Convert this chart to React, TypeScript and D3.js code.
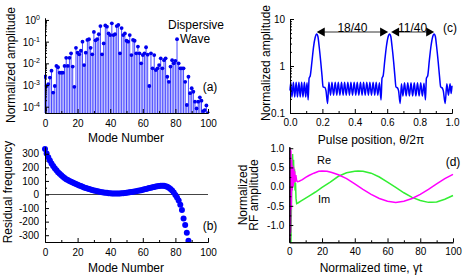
import { useRef, useEffect } from "react";
import {
    axisBottom,
    axisLeft,
    Axis as D3Axis,
    scaleLinear,
    scaleLog,
    select,
    line,
    curveMonotoneX,
} from "d3";

const FONT = "'Liberation Sans', Arial, sans-serif";

// (a) normalized mode amplitudes, index = mode number
const modeAmplitudes = [
    2.4e-3, 9e-4, 1.1e-3, 2.2e-3, 4.6e-3, 4.5e-4, 9e-4, 7.6e-3, 6.6e-3, 3.7e-3,
    3.7e-3, 3.7e-3, 7.6e-3, 1.8e-2, 7.6e-3, 1.8e-2, 2.9e-2, 7.1e-3, 8.3e-4, 5.2e-2,
    3.1e-2, 2.6e-2, 3.8e-2, 0.1, 8.3e-3, 3.1e-2, 0.12, 0.13, 5.2e-2, 2.6e-2,
    0.28, 0.115, 0.13, 0.22, 0.52, 2.6e-2, 8.3e-2, 0.56, 0.49, 0.24,
    0.2, 0.7, 0.2, 0.22, 0.52, 0.59, 2.9e-2, 0.42, 0.2, 0.24,
    0.11, 0.1, 0.2, 2.4e-2, 0.12, 0.11, 2.9e-2, 5.9e-2, 2.9e-2, 1e-2,
    2.4e-2, 2.9e-2, 5.5e-2, 2.5e-2, 9e-4, 2.9e-2, 5.9e-3, 2.4e-2, 4.9e-3, 5.9e-3,
    8.3e-3, 1.7e-2, 5.9e-3, 1.4e-2, 1.7e-2, 2.4e-3, 1.4e-3, 7.1e-3, 1.4e-2, 1e-2,
    1.3e-2, 0.13, 1e-2, 5.9e-3, 5.9e-3, 5.9e-3, 1.4e-3, 1.2e-4, 2.4e-3, 4.2e-4,
    7.1e-4, 4.9e-4, 1.7e-4, 8.3e-5, 1.7e-4, 2.7e-4, 1.9e-4, 6.3e-5, 7e-5, 1.15e-4,
    5e-5,
];

// (b) residual frequency, index = mode number
const residuals = [
    335, 302, 274, 250, 229, 210, 193, 178, 164, 152,
    141, 131, 122, 113, 106, 100, 94, 88, 82, 77,
    72, 67, 62, 57, 52, 48, 44, 40, 36, 33,
    30, 27, 24, 22, 19, 17, 15, 13, 12, 10,
    9, 8, 7, 7, 7, 7, 8, 9, 10, 11,
    13, 14, 16, 18, 20, 22, 24, 27, 29, 32,
    35, 38, 41, 44, 47, 50, 53, 56, 59, 61,
    63, 65, 65, 64, 61, 57, 50, 41, 29, 14,
    -3, -22, -45, -75, -115, -176, -225, -281, -340,
];

// (c) pulse trace: [position, amplitude]
const pulseTrace: [number, number][] = [
    [0.0, 0.3], [0.005, 0.45], [0.012, 0.22], [0.021, 0.45], [0.029, 0.22], [0.038, 0.45],
    [0.046, 0.22], [0.055, 0.45], [0.063, 0.22], [0.072, 0.45], [0.08, 0.22], [0.089, 0.45],
    [0.097, 0.22], [0.105, 0.44], [0.112, 0.19], [0.118, 0.55], [0.125, 0.62], [0.135, 1.2],
    [0.145, 2.5], [0.155, 4.0], [0.165, 4.8], [0.172, 4.3], [0.18, 2.6], [0.19, 1.2],
    [0.198, 0.6], [0.204, 0.36], [0.215, 0.35], [0.222, 0.3], [0.232, 0.16], [0.24, 0.45],
    [0.25, 0.24], [0.259, 0.45], [0.269, 0.24], [0.279, 0.45], [0.289, 0.24], [0.298, 0.45],
    [0.308, 0.24], [0.318, 0.45], [0.328, 0.24], [0.337, 0.45], [0.347, 0.24], [0.357, 0.45],
    [0.367, 0.24], [0.376, 0.45], [0.386, 0.24], [0.396, 0.45], [0.406, 0.24], [0.415, 0.45],
    [0.425, 0.24], [0.435, 0.45], [0.445, 0.24], [0.454, 0.45], [0.464, 0.24], [0.474, 0.45],
    [0.484, 0.24], [0.493, 0.45], [0.503, 0.24], [0.513, 0.45], [0.523, 0.24], [0.532, 0.45],
    [0.542, 0.24], [0.552, 0.44], [0.562, 0.19], [0.568, 0.55], [0.575, 0.62], [0.585, 1.3],
    [0.595, 2.6], [0.605, 4.1], [0.615, 4.8], [0.622, 4.3], [0.63, 2.6], [0.64, 1.2],
    [0.648, 0.58], [0.654, 0.36], [0.664, 0.34], [0.67, 0.3], [0.68, 0.16], [0.688, 0.42],
    [0.697, 0.23], [0.707, 0.44], [0.717, 0.23], [0.727, 0.44], [0.737, 0.23], [0.747, 0.44],
    [0.757, 0.23], [0.767, 0.44], [0.777, 0.23], [0.787, 0.44], [0.797, 0.23], [0.807, 0.44],
    [0.817, 0.23], [0.827, 0.43], [0.836, 0.19], [0.842, 0.55], [0.85, 0.62], [0.86, 1.3],
    [0.87, 2.6], [0.88, 4.1], [0.89, 4.8], [0.897, 4.3], [0.905, 2.6], [0.915, 1.2],
    [0.923, 0.6], [0.93, 0.36], [0.94, 0.34], [0.946, 0.3], [0.958, 0.16], [0.968, 0.42],
    [0.978, 0.24], [0.988, 0.42], [0.995, 0.26], [1.0, 0.38],
];
const pulsePeaks = [0.165, 0.615, 0.89];
const spacingLabels = ["18/40", "11/40"];

// (d) RF amplitude: [time, value]
const reTrace: [number, number][] = [
    [0, -1.45], [0.2, 1.0], [0.4, -1.4], [0.6, 1.0], [0.8, -1.2], [1.0, 0.95], [1.2, -0.6],
    [1.5, 0.7], [1.8, -0.1], [2.1, 0.55], [2.4, 0.0], [2.7, 0.5], [3.0, 0.1], [3.3, 0.4],
    [3.6, 0.12], [4.0, 0.3], [4.5, 0.15], [5, 0.13], [6, 0.14], [8, 0.18], [10, 0.24],
    [12, 0.29], [15, 0.35], [18, 0.4], [20, 0.41], [23, 0.4], [26, 0.37], [30, 0.31],
    [35, 0.21], [40, 0.07], [45, -0.07], [50, -0.2], [55, -0.31], [60, -0.38], [65, -0.41],
    [70, -0.38], [75, -0.31], [80, -0.2], [85, -0.07], [90, 0.07], [95, 0.21], [100, 0.32],
];
const imTrace: [number, number][] = [
    [1.0, -1.45], [1.3, -0.5], [1.6, 0.3], [2.0, 0.85], [2.3, 0.3], [2.6, 0.7], [2.9, 0.1],
    [3.2, 0.45], [3.5, -0.1], [3.8, 0.1], [4.1, -0.3], [4.5, -0.44], [5.5, -0.42], [7, -0.38],
    [10, -0.3], [13, -0.22], [16, -0.14], [20, -0.02], [25, 0.12], [30, 0.27], [35, 0.36],
    [40, 0.4], [42, 0.41], [45, 0.4], [50, 0.35], [55, 0.25], [60, 0.12], [65, -0.02],
    [70, -0.16], [75, -0.28], [80, -0.36], [85, -0.41], [87, -0.41], [90, -0.4], [95, -0.33],
    [100, -0.23],
];

const modeTicks = [0, 20, 40, 60, 80, 100];
const modeMinor = [10, 30, 50, 70, 90];
const ampDecades = [0, -1, -2, -3, -4];

function Axis({ axis, transform }: { axis: D3Axis<any>; transform?: string }) {
    const ref = useRef<SVGGElement>(null);

    useEffect(() => {
        if (ref.current) {
            const g = select(ref.current);
            g.call(axis);
            g.attr("font-family", FONT).attr("font-size", 10);
            g.selectAll("text").attr("fill", "#000");
            g.selectAll("line,path").attr("stroke", "#000");
        }
    });

    return <g ref={ref} transform={transform} />;
}

const noLabel = () => "";

function PanelA() {
    const x = scaleLinear().domain([0, 100]).range([45, 208]);
    const y = scaleLog().domain([Math.pow(10, -4.29), Math.pow(10, 0.09)]).range([113, 18]);
    const minor: number[] = [];
    ampDecades.forEach((e) => {
        for (let m = 2; m <= 9; m++) {
            const v = m * Math.pow(10, e - 1);
            if (v > y.domain()[0] && v < y.domain()[1]) minor.push(v);
        }
    });
    return (
        <g>
            <clipPath id="clipA">
                <rect x={44} y={15} width={170} height={98} />
            </clipPath>
            <g clipPath="url(#clipA)">
                {modeAmplitudes.map((v, i) => (
                    <line
                        key={`s${i}`}
                        x1={x(i)}
                        x2={x(i)}
                        y1={113}
                        y2={y(v)}
                        stroke="#4a4aff"
                        strokeWidth={1}
                    />
                ))}
                {modeAmplitudes.map((v, i) => (
                    <circle key={`d${i}`} cx={x(i)} cy={y(v)} r={1.9} fill="#0000ee" />
                ))}
            </g>
            <Axis
                axis={axisBottom(x).tickValues(modeTicks).tickSizeInner(-4).tickSizeOuter(0).tickPadding(7)}
                transform="translate(0,113)"
            />
            <Axis
                axis={axisBottom(x).tickValues(modeMinor).tickSizeInner(-2).tickSizeOuter(0).tickFormat(noLabel)}
                transform="translate(0,113)"
            />
            <Axis
                axis={axisLeft(y)
                    .tickValues(ampDecades.map((e) => Math.pow(10, e)))
                    .tickSizeInner(-4)
                    .tickSizeOuter(0)
                    .tickFormat(noLabel)}
                transform="translate(45,0)"
            />
            <Axis
                axis={axisLeft(y).tickValues(minor).tickSizeInner(-2).tickSizeOuter(0).tickFormat(noLabel)}
                transform="translate(45,0)"
            />
            {ampDecades.map((e) => (
                <text
                    key={e}
                    x={40}
                    y={y(Math.pow(10, e)) + 4}
                    textAnchor="end"
                    fontSize={10}
                    fontFamily={FONT}
                >
                    10
                    <tspan dy={-4} fontSize={7}>
                        {e}
                    </tspan>
                </text>
            ))}
            <text
                transform="translate(15,65) rotate(-90)"
                textAnchor="middle"
                fontSize={12}
                fontFamily={FONT}
            >
                Normalized amplitude
            </text>
            <text x={126} y={142} textAnchor="middle" fontSize={12} fontFamily={FONT}>
                Mode Number
            </text>
            <text x={196} y={29} textAnchor="middle" fontSize={12} fontFamily={FONT}>
                Dispersive
            </text>
            <text x={195} y={43} textAnchor="middle" fontSize={12} fontFamily={FONT}>
                Wave
            </text>
            <text x={210} y={91} textAnchor="middle" fontSize={12} fontFamily={FONT}>
                (a)
            </text>
        </g>
    );
}

function PanelB() {
    const x = scaleLinear().domain([0, 100]).range([45, 208]);
    const y = scaleLinear().domain([-350, 350]).range([242, 147]);
    return (
        <g>
            <clipPath id="clipB">
                <rect x={40} y={140} width={175} height={102} />
            </clipPath>
            <line x1={45} x2={208} y1={y(0)} y2={y(0)} stroke="#444" strokeWidth={1.2} />
            <g clipPath="url(#clipB)">
                {residuals.map((v, i) => (
                    <circle key={i} cx={x(i)} cy={y(v)} r={3} fill="#0000ff" />
                ))}
            </g>
            <Axis
                axis={axisBottom(x).tickValues(modeTicks).tickSizeInner(-4).tickSizeOuter(0).tickPadding(7)}
                transform="translate(0,242)"
            />
            <Axis
                axis={axisBottom(x).tickValues(modeMinor).tickSizeInner(-2).tickSizeOuter(0).tickFormat(noLabel)}
                transform="translate(0,242)"
            />
            <Axis
                axis={axisLeft(y)
                    .tickValues([-300, -200, -100, 0, 100, 200, 300])
                    .tickSizeInner(-4)
                    .tickSizeOuter(0)
                    .tickPadding(6)
                    .tickFormat((d) => String(d))}
                transform="translate(45,0)"
            />
            <Axis
                axis={axisLeft(y)
                    .tickValues([-250, -150, -50, 50, 150, 250])
                    .tickSizeInner(-2)
                    .tickSizeOuter(0)
                    .tickFormat(noLabel)}
                transform="translate(45,0)"
            />
            <text
                transform="translate(12,192) rotate(-90)"
                textAnchor="middle"
                fontSize={12}
                fontFamily={FONT}
            >
                Residual frequency
            </text>
            <text x={126} y={272} textAnchor="middle" fontSize={12} fontFamily={FONT}>
                Mode Number
            </text>
            <text x={210} y={230} textAnchor="middle" fontSize={12} fontFamily={FONT}>
                (b)
            </text>
        </g>
    );
}

function PanelC() {
    const x = scaleLinear().domain([0, 1]).range([290, 452]);
    const y = scaleLog().domain([0.1, 10]).range([113, 19]);
    const minor: number[] = [];
    [0.1, 1].forEach((d) => {
        for (let m = 2; m <= 9; m++) minor.push(m * d);
    });
    const path = line<[number, number]>()
        .x((d) => x(d[0]))
        .y((d) => y(d[1]))
        .curve(curveMonotoneX);
    const ay = 32;
    const p = pulsePeaks.map((v) => x(v));
    const arrows = [
        [p[0], p[1] - 1.5],
        [p[1] + 1.5, p[2]],
    ];
    return (
        <g>
            <path d={path(pulseTrace) ?? ""} fill="none" stroke="#0000ff" strokeWidth={1.5} />
            {arrows.map(([a, b], i) => (
                <g key={i}>
                    <line x1={a + 6} x2={b - 6} y1={ay} y2={ay} stroke="#000" strokeWidth={0.8} />
                    <polygon points={`${a},${ay} ${a + 8},${ay - 4.5} ${a + 8},${ay + 4.5}`} fill="#000" />
                    <polygon points={`${b},${ay} ${b - 8},${ay - 4.5} ${b - 8},${ay + 4.5}`} fill="#000" />
                    <text
                        x={(a + b) / 2}
                        y={ay - 0.5}
                        textAnchor="middle"
                        fontSize={12}
                        fontFamily={FONT}
                    >
                        {spacingLabels[i]}
                    </text>
                </g>
            ))}
            <Axis
                axis={axisBottom(x)
                    .tickValues([0, 0.2, 0.4, 0.6, 0.8, 1.0])
                    .tickSizeInner(-4)
                    .tickSizeOuter(0)
                    .tickPadding(6)
                    .tickFormat((d) => (+d).toFixed(1))}
                transform="translate(0,113)"
            />
            <Axis
                axis={axisBottom(x)
                    .tickValues([0.1, 0.3, 0.5, 0.7, 0.9])
                    .tickSizeInner(-2)
                    .tickSizeOuter(0)
                    .tickFormat(noLabel)}
                transform="translate(0,113)"
            />
            <Axis
                axis={axisLeft(y)
                    .tickValues([0.1, 1, 10])
                    .tickSizeInner(-4)
                    .tickSizeOuter(0)
                    .tickPadding(5)
                    .tickFormat((d) => String(d))}
                transform="translate(290,0)"
            />
            <Axis
                axis={axisLeft(y).tickValues(minor).tickSizeInner(-2).tickSizeOuter(0).tickFormat(noLabel)}
                transform="translate(290,0)"
            />
            <text
                transform="translate(270,63) rotate(-90)"
                textAnchor="middle"
                fontSize={12}
                fontFamily={FONT}
            >
                Normalized amplitude
            </text>
            <text x={371} y={144} textAnchor="middle" fontSize={12} fontFamily={FONT}>
                Pulse position,  θ/2π
            </text>
            <text x={450} y={32} textAnchor="middle" fontSize={12} fontFamily={FONT}>
                (c)
            </text>
        </g>
    );
}

function PanelD() {
    const x = scaleLinear().domain([0, 100]).range([289.3, 453]);
    const y = scaleLinear().domain([-1.45, 1.04]).range([242.3, 146.7]);
    const path = line<[number, number]>()
        .x((d) => x(d[0]))
        .y((d) => y(d[1]));
    return (
        <g>
            <clipPath id="clipD">
                <rect x={289.3} y={146} width={166} height={96.3} />
            </clipPath>
            <g clipPath="url(#clipD)">
                <path d={path(imTrace) ?? ""} fill="none" stroke="#33ee33" strokeWidth={1.5} />
                <path d={path(reTrace) ?? ""} fill="none" stroke="#ff00ff" strokeWidth={1.5} />
            </g>
            <Axis
                axis={axisBottom(x).tickValues(modeTicks).tickSizeInner(-4).tickSizeOuter(0).tickPadding(6)}
                transform="translate(0,242.3)"
            />
            <Axis
                axis={axisBottom(x).tickValues(modeMinor).tickSizeInner(-2).tickSizeOuter(0).tickFormat(noLabel)}
                transform="translate(0,242.3)"
            />
            <Axis
                axis={axisLeft(y)
                    .tickValues([-1, -0.5, 0, 0.5, 1])
                    .tickSizeInner(-4)
                    .tickSizeOuter(0)
                    .tickPadding(5)
                    .tickFormat((d) => (+d).toFixed(1))}
                transform="translate(289.3,0)"
            />
            <Axis
                axis={axisLeft(y)
                    .tickValues([-1.25, -0.75, -0.25, 0.25, 0.75])
                    .tickSizeInner(-2)
                    .tickSizeOuter(0)
                    .tickFormat(noLabel)}
                transform="translate(289.3,0)"
            />
            <text
                transform="translate(247,195) rotate(-90)"
                textAnchor="middle"
                fontSize={12}
                fontFamily={FONT}
            >
                Normalized
            </text>
            <text
                transform="translate(258,195) rotate(-90)"
                textAnchor="middle"
                fontSize={12}
                fontFamily={FONT}
            >
                RF amplitude
            </text>
            <text x={371} y={272} textAnchor="middle" fontSize={12} fontFamily={FONT}>
                Normalized time,  γt
            </text>
            <text x={317} y={164} fontSize={11} fontFamily={FONT}>
                Re
            </text>
            <text x={318} y={203} fontSize={11} fontFamily={FONT}>
                Im
            </text>
            <text x={453} y={166} textAnchor="middle" fontSize={12} fontFamily={FONT}>
                (d)
            </text>
        </g>
    );
}

export default function App() {
    return (
        <svg
            width={463}
            height={277}
            style={{ position: "absolute", left: 0, top: 0, background: "#fff" }}
        >
            <PanelA />
            <PanelB />
            <PanelC />
            <PanelD />
        </svg>
    );
}
